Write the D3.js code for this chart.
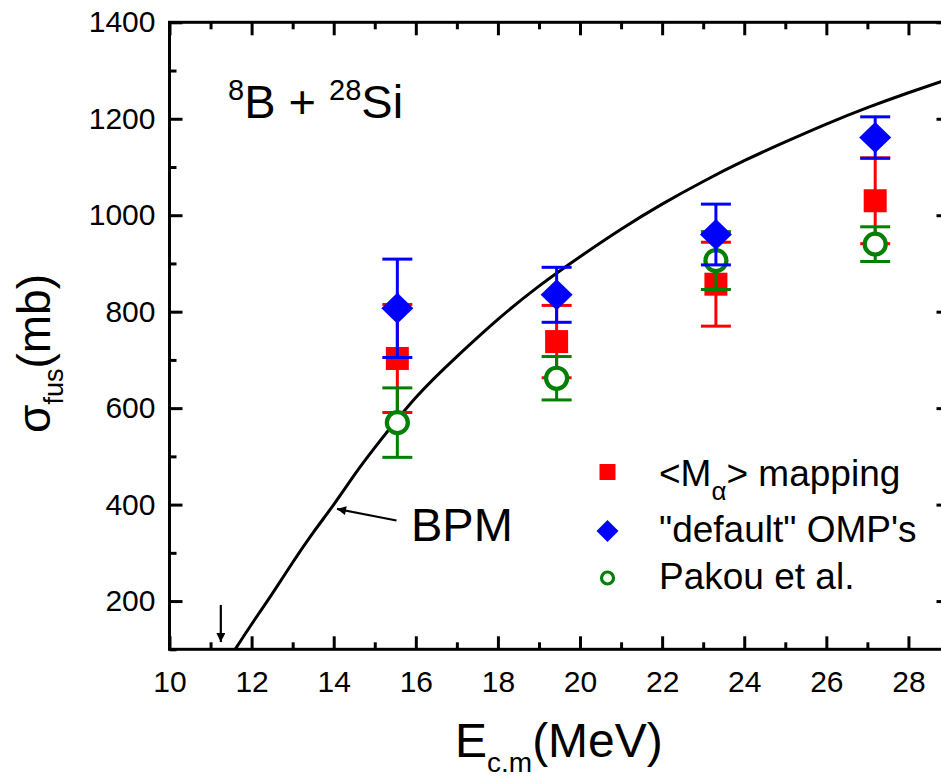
<!DOCTYPE html>
<html>
<head>
<meta charset="utf-8">
<script src="https://cdnjs.cloudflare.com/ajax/libs/d3/7.8.5/d3.min.js"></script>
<style>
  html, body { margin: 0; padding: 0; background: #fff; }
  svg { display: block; }
  text { font-family: Arial, "Liberation Sans", Helvetica, sans-serif; fill: #000; }
</style>
</head>
<body>
<svg id="chart" width="941" height="779"></svg>
<script>
// Beam energies (c.m., MeV) of the four measurements
const energies = [15.55, 19.43, 23.31, 27.19];

// <M_alpha> mapping
const mappingSigma = [703, 738, 857, 1030];
const mappingErr   = [112, 75, 87, 89];

// "default" OMP's
const ompSigma = [807, 835, 960, 1161];
const ompErr   = [102, 57, 63, 43];

// Pakou et al.
const pakouSigma = [570, 662, 906, 940];
const pakouErr   = [72, 45, 60, 36];

// Barrier penetration model curve
const bpmE     = [11.6, 12, 12.5, 13, 13.5, 14, 14.5, 15, 16, 17, 18, 19, 20, 21, 22, 23, 24, 25, 26, 27, 28, 29];
const bpmSigma = [100, 152, 215, 280, 342, 400, 461, 518, 622, 707, 784, 853, 914, 971, 1023, 1070, 1113, 1152, 1189, 1223, 1254, 1283];

// Coulomb barrier position
const barrierE = 11.25;

// Axis ticks
const xMajor = [10, 12, 14, 16, 18, 20, 22, 24, 26, 28];
const xMinor = [11, 13, 15, 17, 19, 21, 23, 25, 27];
const yMajor = [200, 400, 600, 800, 1000, 1200, 1400];
const yMinor = [100, 300, 500, 700, 900, 1100, 1300];

const svg = d3.select("#chart");
const L = 169.5, R = 949.5, T = 22.3, B = 649.3;

const x = d3.scaleLinear().domain([10, 29]).range([L, R]);
const y = d3.scaleLinear().domain([100, 1400]).range([B, T]);

const defs = svg.append("defs");
defs.append("clipPath").attr("id", "plotClip")
  .append("rect").attr("x", L).attr("y", T).attr("width", R - L).attr("height", B - T);

const majLen = 13, minLen = 7;

// Axes: ticks point inward on all four sides
const bottomAxis = d3.axisBottom(x).tickValues(xMajor).tickSize(-majLen).tickPadding(majLen + 8).tickFormat(d3.format("d"));
const bottomMinor = d3.axisBottom(x).tickValues(xMinor).tickSize(-minLen).tickFormat("");
const topAxis = d3.axisTop(x).tickValues(xMajor).tickSize(-majLen).tickFormat("");
const topMinor = d3.axisTop(x).tickValues(xMinor).tickSize(-minLen).tickFormat("");
const leftAxis = d3.axisLeft(y).tickValues(yMajor).tickSize(-majLen).tickPadding(majLen + 1).tickFormat(d3.format("d"));
const leftMinor = d3.axisLeft(y).tickValues(yMinor).tickSize(-minLen).tickFormat("");
const rightAxis = d3.axisRight(y).tickValues(yMajor).tickSize(-majLen).tickFormat("");
const rightMinor = d3.axisRight(y).tickValues(yMinor).tickSize(-minLen).tickFormat("");

function styleAxis(g) {
  g.selectAll("path.domain").attr("d", null);
  g.selectAll(".tick line").attr("stroke", "#000").attr("stroke-width", 3);
  g.selectAll(".tick text").attr("font-size", 30).attr("fill", "#000")
    .style("font-family", "Arial, 'Liberation Sans', sans-serif");
}

[
  [bottomMinor, `translate(0,${B})`],
  [topMinor, `translate(0,${T})`],
  [leftMinor, `translate(${L},0)`],
  [rightMinor, `translate(${R},0)`],
  [bottomAxis, `translate(0,${B})`],
  [topAxis, `translate(0,${T})`],
  [leftAxis, `translate(${L},0)`],
  [rightAxis, `translate(${R},0)`]
].forEach(([ax, tr]) => {
  styleAxis(svg.append("g").attr("transform", tr).call(ax));
});

// Frame
svg.append("rect").attr("x", L).attr("y", T).attr("width", R - L).attr("height", B - T)
  .attr("fill", "none").attr("stroke", "#000").attr("stroke-width", 3);

// BPM curve
const bpmPts = bpmE.map((e, i) => [e, bpmSigma[i]]);
svg.append("path")
  .datum(bpmPts)
  .attr("clip-path", "url(#plotClip)")
  .attr("fill", "none").attr("stroke", "#000").attr("stroke-width", 3)
  .attr("d", d3.line().x(d => x(d[0])).y(d => y(d[1])).curve(d3.curveNatural));

// Data series with error bars (drawn red, green, blue)
const capHalf = 15;
function errorBars(vals, errs, color) {
  const g = svg.append("g");
  energies.forEach((e, i) => {
    const cx = x(e), y1 = y(vals[i] + errs[i]), y0 = y(vals[i] - errs[i]);
    g.append("line").attr("x1", cx).attr("x2", cx).attr("y1", y1).attr("y2", y0)
      .attr("stroke", color).attr("stroke-width", 3);
    [y1, y0].forEach(yy => g.append("line").attr("x1", cx - capHalf).attr("x2", cx + capHalf)
      .attr("y1", yy).attr("y2", yy).attr("stroke", color).attr("stroke-width", 3));
  });
  return g;
}

const red = "#ff0000", blue = "#0000ff", green = "#008000";

// <M_alpha> mapping: red squares
const gR = errorBars(mappingSigma, mappingErr, red);
energies.forEach((e, i) => {
  gR.append("rect").attr("x", x(e) - 11.5).attr("y", y(mappingSigma[i]) - 11.5)
    .attr("width", 23).attr("height", 23).attr("fill", red);
});

// Pakou et al.: open green circles
const gG = errorBars(pakouSigma, pakouErr, green);
energies.forEach((e, i) => {
  gG.append("circle").attr("cx", x(e)).attr("cy", y(pakouSigma[i])).attr("r", 10.5)
    .attr("fill", "#fff").attr("stroke", green).attr("stroke-width", 4.2);
});

// "default" OMP's: blue diamonds
const gB = errorBars(ompSigma, ompErr, blue);
energies.forEach((e, i) => {
  const cx = x(e), cy = y(ompSigma[i]);
  gB.append("path").attr("d", `M${cx},${cy - 15.5}L${cx + 16},${cy}L${cx},${cy + 15.5}L${cx - 16},${cy}Z`)
    .attr("fill", blue);
});

// Arrow head
defs.append("marker").attr("id", "head").attr("viewBox", "0 0 10 10")
  .attr("refX", 10).attr("refY", 5).attr("markerWidth", 15).attr("markerHeight", 9)
  .attr("markerUnits", "userSpaceOnUse").attr("orient", "auto")
  .append("path").attr("d", "M0,0L10,5L0,10Z").attr("fill", "#000");

// Barrier arrow
svg.append("line")
  .attr("x1", x(barrierE)).attr("x2", x(barrierE))
  .attr("y1", y(192)).attr("y2", y(115))
  .attr("stroke", "#000").attr("stroke-width", 2.2).attr("marker-end", "url(#head)");

// BPM label arrow
svg.append("line")
  .attr("x1", x(15.53)).attr("y1", y(367))
  .attr("x2", x(14.08)).attr("y2", y(391))
  .attr("stroke", "#000").attr("stroke-width", 2.2).attr("marker-end", "url(#head)");

svg.append("text").attr("x", 411).attr("y", 541).attr("font-size", 47).text("BPM");

// Reaction label
const title = svg.append("text").attr("x", 228).attr("y", 118).attr("font-size", 47);
title.append("tspan").attr("font-size", 29).attr("dy", -18).text("8");
title.append("tspan").attr("dy", 18).text("B + ");
title.append("tspan").attr("font-size", 29).attr("dy", -18).text("28");
title.append("tspan").attr("dy", 18).text("Si");

// Legend
const legendRows = [
  { color: red, shape: "square", y: 472 },
  { color: blue, shape: "diamond", y: 531 },
  { color: green, shape: "circle", y: 578 }
];
const lx = 607.5;
legendRows.forEach(r => {
  if (r.shape === "square") {
    svg.append("rect").attr("x", lx - 8).attr("y", r.y - 8).attr("width", 16).attr("height", 16).attr("fill", r.color);
  } else if (r.shape === "diamond") {
    svg.append("path").attr("d", `M${lx},${r.y - 11}L${lx + 11},${r.y}L${lx},${r.y + 11}L${lx - 11},${r.y}Z`).attr("fill", r.color);
  } else {
    svg.append("circle").attr("cx", lx).attr("cy", r.y).attr("r", 6).attr("fill", "#fff")
      .attr("stroke", r.color).attr("stroke-width", 3.2);
  }
});
const legFont = 37;
const l1 = svg.append("text").attr("x", 659).attr("y", 486).attr("font-size", legFont);
l1.append("tspan").text("<M");
l1.append("tspan").attr("font-size", 26).attr("dy", 14).text("α");
l1.append("tspan").attr("dy", -14).text("> mapping");
svg.append("text").attr("x", 659).attr("y", 542).attr("font-size", legFont).text("\"default\" OMP's");
svg.append("text").attr("x", 659).attr("y", 589).attr("font-size", legFont).text("Pakou et al.");

// Axis titles
const xt = svg.append("text").attr("x", 455).attr("y", 757).attr("font-size", 48);
xt.append("tspan").text("E");
xt.append("tspan").attr("font-size", 28).attr("dy", 15).text("c.m");
xt.append("tspan").attr("dy", -15).text("(MeV)");

const yt = svg.append("text").attr("transform", "translate(50,433) rotate(-90)").attr("font-size", 46);
yt.append("tspan").text("σ");
yt.append("tspan").attr("font-size", 27).attr("dy", 13).text("fus");
yt.append("tspan").attr("dy", -13).text("(mb)");
</script>
</body>
</html>
